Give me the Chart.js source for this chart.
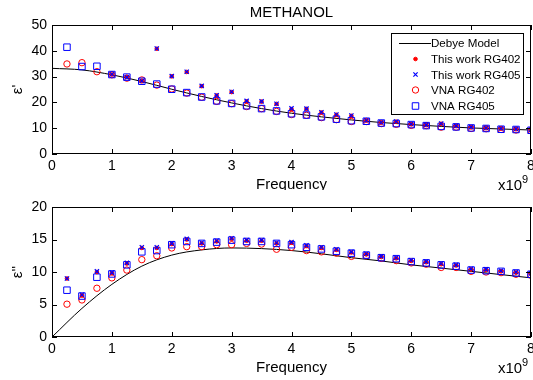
<!DOCTYPE html>
<html lang="en">
<head>
<meta charset="UTF-8">
<title>Methanol</title>
<script src="https://cdn.jsdelivr.net/npm/chart.js"></script>
<style>
  body { margin: 0; background: #fff; }
  canvas { display: block; }
</style>
</head>
<body>
<canvas id="chartReal" width="533" height="190"></canvas>
<canvas id="chartImag" width="533" height="190"></canvas>
<script>
// measured frequencies (GHz, axis shows x10^9)
const freq = [0.25, 0.5, 0.75, 1, 1.25, 1.5, 1.75, 2, 2.25, 2.5, 2.75, 3, 3.25, 3.5, 3.75, 4,
              4.25, 4.5, 4.75, 5, 5.25, 5.5, 5.75, 6, 6.25, 6.5, 6.75, 7, 7.25, 7.5, 7.75, 8];

// Debye model curve
const debyeFreq = [0, 0.5, 1, 1.5, 2, 2.5, 3, 3.5, 4, 4.5, 5, 5.5, 6, 6.5, 7, 7.5, 8];
const debyeReal = [33.2, 32.6, 30.7, 28.1, 25.1, 22.3, 19.8, 17.6, 15.8, 14.4, 13.2, 12.2, 11.4, 10.7, 10.1, 9.7, 9.3];
const debyeImag = [0, 4.4, 8.1, 10.9, 12.6, 13.4, 13.7, 13.6, 13.3, 12.8, 12.2, 11.7, 11.1, 10.6, 10.1, 9.6, 9.1];

// epsilon' (top)
const workReal402 = [null, null, null, 30.8, 29.8, 28.4, 40.8, 30.1, 31.8, 26.3, 22.7, 24.0, 20.4, 20.3, 19.4, 17.4,
                     17.5, 16.1, 15.2, 14.8, 12.9, 12.1, 12.5, 11.5, 11.2, 11.7, 10.8, 10.3, 10.0, 9.8, 9.6, 9.3];
const workReal405 = [null, null, null, 30.9, 29.7, 28.3, 40.9, 30.2, 31.9, 26.4, 22.8, 24.1, 20.6, 20.4, 19.5, 17.7,
                     17.6, 16.2, 15.3, 14.9, 13.0, 12.2, 12.6, 11.6, 11.3, 11.8, 10.9, 10.4, 10.1, 9.9, 9.7, 9.4];
const vnaReal402 = [34.9, 35.4, 31.9, 30.7, 29.4, 28.7, 26.7, 25.2, 23.6, 22.0, 20.4, 19.5, 18.4, 17.6, 16.5, 15.3,
                    15.0, 14.1, 13.3, 12.6, 12.6, 11.8, 11.5, 11.1, 11.0, 10.4, 10.4, 9.9, 9.8, 9.5, 9.3, 9.1];
const vnaReal405 = [41.4, 33.9, 34.0, 30.8, 29.8, 28.2, 27.1, 25.1, 23.8, 22.1, 20.6, 19.6, 18.7, 17.6, 16.7, 15.6,
                    15.1, 14.4, 13.5, 12.9, 12.7, 12.0, 11.8, 11.4, 11.0, 10.7, 10.5, 10.1, 9.9, 9.6, 9.5, 9.2];

// epsilon'' (bottom)
const workImag402 = [9.0, 6.4, 10.0, 9.8, 11.3, 13.7, 13.7, 14.3, 15.0, 14.4, 14.7, 15.1, 14.8, 14.8, 14.4, 14.5,
                     14.0, 13.7, 13.4, 13.0, 12.7, 12.3, 12.1, 11.7, 11.5, 11.2, 11.0, 10.4, 10.3, 10.1, 9.9, 9.7];
const workImag405 = [9.0, 6.5, 10.1, 9.9, 11.4, 13.8, 13.8, 14.4, 15.1, 14.5, 14.8, 15.2, 14.9, 14.9, 14.5, 14.6,
                     14.1, 13.8, 13.5, 13.1, 12.8, 12.4, 12.2, 11.8, 11.6, 11.3, 11.1, 10.5, 10.4, 10.2, 10.0, 9.8];
const vnaImag402 = [5.05, 5.7, 7.5, 9.1, 10.3, 11.9, 12.5, 13.7, 13.9, 13.9, 14.2, 14.2, 14.4, 14.3, 13.5, 13.8,
                    13.3, 13.1, 12.9, 12.4, 12.5, 12.1, 11.75, 11.4, 11.2, 10.7, 10.7, 10.1, 10.0, 9.9, 9.65, 9.5];
const vnaImag405 = [7.2, 6.3, 9.2, 9.7, 11.1, 13.1, 13.3, 14.2, 14.7, 14.4, 14.6, 14.9, 14.7, 14.7, 14.4, 14.2,
                    13.8, 13.55, 13.2, 12.9, 12.6, 12.2, 12.05, 11.6, 11.4, 11.1, 10.9, 10.3, 10.2, 10.1, 9.85, 9.65];

const xTicks = [0, 1, 2, 3, 4, 5, 6, 7, 8];
const yTicksReal = [0, 10, 20, 30, 40, 50];
const yTicksImag = [0, 5, 10, 15, 20];

const legendLabels = ['Debye Model', 'This work RG402', 'This work RG405', 'VNA RG402', 'VNA RG405'];

const FONT = '"Liberation Sans", Arial, sans-serif';
const RED = '#ff0000';
const BLUE = '#0000ff';

function pts(xs, ys) {
  return xs.map((x, i) => ({ x: x, y: ys[i] }));
}

function makeDatasets(debye, w402, w405, v402, v405) {
  return [
    { label: legendLabels[0], data: pts(debyeFreq, debye), borderColor: '#000', borderWidth: 1,
      pointRadius: 0, showLine: true, cubicInterpolationMode: 'monotone', order: 5 },
    { label: legendLabels[1], data: pts(freq, w402), showLine: false, pointStyle: 'circle',
      pointRadius: 1.8, backgroundColor: RED, borderColor: RED, borderWidth: 1, order: 2 },
    { label: legendLabels[2], data: pts(freq, w405), showLine: false, pointStyle: 'crossRot',
      pointRadius: 3, borderColor: BLUE, backgroundColor: BLUE, borderWidth: 1.2, order: 1 },
    { label: legendLabels[3], data: pts(freq, v402), showLine: false, pointStyle: 'circle',
      pointRadius: 3.2, borderColor: RED, backgroundColor: 'rgba(0,0,0,0)', borderWidth: 1, order: 4 },
    { label: legendLabels[4], data: pts(freq, v405), showLine: false, pointStyle: 'rect',
      pointRadius: 4.6, borderColor: BLUE, backgroundColor: 'rgba(0,0,0,0)', borderWidth: 1, order: 3 }
  ];
}

// box, inward ticks, labels and legend drawn matlab style
const matlabFrame = {
  id: 'matlabFrame',
  afterDraw(chart, args, opts) {
    const ctx = chart.ctx;
    const a = chart.chartArea;
    const xs = chart.scales.x, ys = chart.scales.y;
    ctx.save();
    ctx.strokeStyle = '#000';
    ctx.lineWidth = 1;
    ctx.strokeRect(Math.round(a.left) + 0.5, Math.round(a.top) + 0.5,
                   Math.round(a.right - a.left) - 1, Math.round(a.bottom - a.top) - 1);
    ctx.beginPath();
    xs.ticks.forEach(t => {
      const px = Math.round(xs.getPixelForValue(t.value)) + 0.5;
      ctx.moveTo(px, a.bottom); ctx.lineTo(px, a.bottom - 5);
      ctx.moveTo(px, a.top); ctx.lineTo(px, a.top + 5);
    });
    ys.ticks.forEach(t => {
      const py = Math.round(ys.getPixelForValue(t.value)) + 0.5;
      ctx.moveTo(a.left, py); ctx.lineTo(a.left + 5, py);
      ctx.moveTo(a.right, py); ctx.lineTo(a.right - 5, py);
    });
    ctx.stroke();

    ctx.fillStyle = '#000';
    ctx.font = '15px ' + FONT;
    ctx.textBaseline = 'alphabetic';
    ctx.textAlign = 'center';
    const cx = (a.left + a.right) / 2;
    if (opts.title) ctx.fillText(opts.title, cx, opts.titleY);
    ctx.fillText('Frequency', cx, a.bottom + opts.xTitleOff);
    ctx.textAlign = 'left';
    ctx.fillText('x10', 498, a.bottom + opts.xTitleOff + 1);
    ctx.font = '11px ' + FONT;
    ctx.fillText('9', 522, a.bottom + opts.xTitleOff - 6);
    ctx.font = '15px ' + FONT;
    ctx.save();
    ctx.translate(22, (a.top + a.bottom) / 2);
    ctx.rotate(-Math.PI / 2);
    ctx.textAlign = 'center';
    ctx.fillText(opts.yTitle, 0, 0);
    ctx.restore();

    if (opts.legend) {
      const L = { left: 391, top: 33, right: 524, bottom: 115 };
      ctx.fillStyle = '#fff';
      ctx.fillRect(L.left, L.top, L.right - L.left, L.bottom - L.top);
      ctx.strokeRect(L.left + 0.5, L.top + 0.5, L.right - L.left - 1, L.bottom - L.top - 1);
      const rowY = [43, 59, 74.5, 90, 106];
      ctx.font = '11.6px ' + FONT;
      ctx.textBaseline = 'middle';
      chart.data.datasets.forEach((ds, i) => {
        const y = rowY[i];
        if (i === 0) {
          ctx.strokeStyle = ds.borderColor;
          ctx.beginPath(); ctx.moveTo(399, y + 0.5); ctx.lineTo(431, y + 0.5); ctx.stroke();
        } else {
          ctx.strokeStyle = ds.borderColor;
          ctx.fillStyle = ds.backgroundColor;
          ctx.lineWidth = ds.borderWidth;
          Chart.helpers.drawPoint(ctx, { pointStyle: ds.pointStyle, radius: ds.pointRadius, rotation: 0, borderWidth: ds.borderWidth }, 415.5, y);
          ctx.lineWidth = 1;
        }
        ctx.fillStyle = '#000';
        ctx.textAlign = 'left';
        ctx.fillText(ds.label, 431, y + 1);
      });
    }
    ctx.restore();
  }
};

function makeChart(id, datasets, yMax, yTicks, padTop, xHeight, frameOpts) {
  return new Chart(document.getElementById(id), {
    type: 'scatter',
    data: { datasets: datasets },
    options: {
      responsive: false,
      animation: false,
      events: [],
      layout: { autoPadding: false, padding: { top: padTop, left: 0, right: 2, bottom: 0 } },
      plugins: { legend: { display: false }, tooltip: { enabled: false }, matlabFrame: frameOpts },
      scales: {
        x: {
          type: 'linear', min: 0, max: 8,
          afterBuildTicks: s => { s.ticks = xTicks.map(v => ({ value: v })); },
          afterFit: s => { s.height = xHeight; s.paddingLeft = 0; s.paddingRight = 0; },
          grid: { display: false, drawTicks: false },
          border: { display: false },
          ticks: { color: '#000', padding: 4, maxRotation: 0, font: { family: FONT, size: 14 } }
        },
        y: {
          min: 0, max: yMax,
          afterBuildTicks: s => { s.ticks = yTicks.map(v => ({ value: v })); },
          afterFit: s => { s.width = 52; s.paddingTop = 0; s.paddingBottom = 0; },
          grid: { display: false, drawTicks: false },
          border: { display: false },
          ticks: { color: '#000', padding: 5, font: { family: FONT, size: 14 } }
        }
      }
    },
    plugins: [matlabFrame]
  });
}

makeChart('chartReal', makeDatasets(debyeReal, workReal402, workReal405, vnaReal402, vnaReal405),
  50, yTicksReal, 25, 36,
  { title: 'METHANOL', titleY: 17, xTitleOff: 35, yTitle: "\u03b5'", legend: true });

makeChart('chartImag', makeDatasets(debyeImag, workImag402, workImag405, vnaImag402, vnaImag405),
  20, yTicksImag, 17, 43,
  { xTitleOff: 35, yTitle: "\u03b5''", legend: false });
</script>
</body>
</html>
